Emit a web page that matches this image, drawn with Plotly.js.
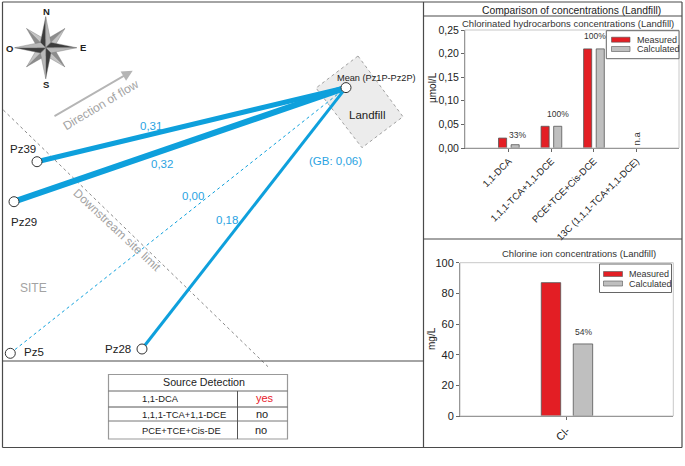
<!DOCTYPE html>
<html>
<head>
<meta charset="utf-8">
<script src="https://cdn.plot.ly/plotly-3.0.1.min.js"></script>
<style>
  html, body { margin: 0; padding: 0; background: #fff; }
  #chart { width: 685px; height: 466px; }
</style>
</head>
<body>
<div id="chart"></div>
<script>
// --- Data ---
const hcCategories = ['1,1-DCA', '1,1,1-TCA+1,1-DCE', 'PCE+TCE+Cis-DCE', '13C (1,1,1-TCA+1,1-DCE)'];
const hcMeasured = [0.021, 0.046, 0.21, null];
const hcCalculated = [0.007, 0.046, 0.21, null];
const hcPercent = ['33%', '100%', '100%', 'n.a'];

const clCategories = ['Cl-'];
const clMeasured = [87];
const clCalculated = [47];
const clPercent = ['54%'];

const wellNames = ['Pz39', 'Pz29', 'Pz5', 'Pz28'];
const wellX = [37, 14, 10.3, 142];
const wellY = [161.7, 201.7, 353.3, 349];
const wellValues = ['0,31', '0,32', '0,00', '0,18'];
const sourceX = 346;
const sourceY = 87.6;

const landfillX = [358, 403, 362, 316, 358];
const landfillY = [56, 116.7, 147.7, 88, 56];
const siteLimitX = [3.3, 268];
const siteLimitY = [110, 366.7];

const tableRows = ['1,1-DCA', '1,1,1-TCA+1,1-DCE', 'PCE+TCE+Cis-DE'];
const tableResults = ['yes', 'no', 'no'];

// --- Styles ---
const RED = '#e31e24';
const GREY = '#bfbfbf';
const BLUE = '#0ea0dc';
const BLUE_TEXT = '#2aa3e2';
const LABEL_GREY = '#a3a3a3';
const FRAME = '#4a4a4a';
const FONT = 'Liberation Sans, Arial, sans-serif';
const W = 685, H = 466;

// Pixel box -> axis domain
const domX = (a, b) => [a / W, b / W];
const domY = (top, bottom) => [1 - bottom / H, 1 - top / H];

function note(x, y, text, size, color, opts) {
    return Object.assign({
        xref: 'x3', yref: 'y3', x: x, y: y, text: text, showarrow: false,
        font: { family: FONT, size: size, color: color }
    }, opts || {});
}

function line(x0, y0, x1, y1, color, width) {
    return { type: 'line', xref: 'x3', yref: 'y3', x0, y0, x1, y1, line: { color, width }, layer: 'above' };
}

function box(x0, y0, x1, y1, fill, color, width, layer) {
    return { type: 'rect', xref: 'x3', yref: 'y3', x0, y0, x1, y1, fillcolor: fill, line: { color, width }, layer: layer || 'above' };
}

// --- Compass rose ---
function compassShapes(cx, cy) {
    const shapes = [];
    const tri = (ax, ay, bx, by, fill) => ({
        type: 'path', xref: 'x3', yref: 'y3', layer: 'above',
        path: `M${cx},${cy} L${cx + ax},${cy + ay} L${cx + bx},${cy + by} Z`,
        fillcolor: fill, line: { color: '#777', width: 0.4 }
    });
    // quarter turns, diagonals go underneath
    for (let i = 0; i < 4; i++) {
        const a = Math.PI / 4 + i * Math.PI / 2;
        const tip = 27, side = 8;
        const tx = tip * Math.sin(a), ty = -tip * Math.cos(a);
        const lx = side * Math.sin(a - Math.PI / 4), ly = -side * Math.cos(a - Math.PI / 4);
        const rx = side * Math.sin(a + Math.PI / 4), ry = -side * Math.cos(a + Math.PI / 4);
        shapes.push(tri(tx, ty, lx, ly, '#8c8c8c'));
        shapes.push(tri(tx, ty, rx, ry, '#c4c4c4'));
    }
    for (let i = 0; i < 4; i++) {
        const a = i * Math.PI / 2;
        const tip = 31, side = 7.5;
        const tx = tip * Math.sin(a), ty = -tip * Math.cos(a);
        const lx = side * Math.sin(a - Math.PI / 4), ly = -side * Math.cos(a - Math.PI / 4);
        const rx = side * Math.sin(a + Math.PI / 4), ry = -side * Math.cos(a + Math.PI / 4);
        shapes.push(tri(tx, ty, lx, ly, '#3d3d3d'));
        shapes.push(tri(tx, ty, rx, ry, '#b8b8b8'));
    }
    return shapes;
}

// --- Traces ---
const barLine = { color: '#555', width: 0.8 };
const traces = [
    { type: 'bar', x: hcCategories, y: hcMeasured, name: 'Measured', xaxis: 'x', yaxis: 'y', width: 0.19, offset: -0.242, marker: { color: RED, line: barLine } },
    { type: 'bar', x: hcCategories, y: hcCalculated, name: 'Calculated', xaxis: 'x', yaxis: 'y', width: 0.19, offset: 0.054, marker: { color: GREY, line: barLine } },
    { type: 'bar', x: clCategories, y: clMeasured, name: 'Measured', xaxis: 'x2', yaxis: 'y2', width: 0.091, offset: -0.119, marker: { color: RED, line: barLine } },
    { type: 'bar', x: clCategories, y: clCalculated, name: 'Calculated', xaxis: 'x2', yaxis: 'y2', width: 0.091, offset: 0.031, marker: { color: GREY, line: barLine } },
    { type: 'scatter', mode: 'lines', x: landfillX, y: landfillY, xaxis: 'x3', yaxis: 'y3', fill: 'toself', fillcolor: '#ececec', line: { color: '#8a8a8a', width: 0.8, dash: 'dot' } },
    { type: 'scatter', mode: 'lines', x: siteLimitX, y: siteLimitY, xaxis: 'x3', yaxis: 'y3', line: { color: '#8a8a8a', width: 1, dash: 'dot' } }
];

const wellLineWidths = [5, 6, 1, 3];
wellNames.forEach((name, i) => {
    traces.push({
        type: 'scatter', mode: 'lines', name: name, xaxis: 'x3', yaxis: 'y3',
        x: [wellX[i], sourceX], y: [wellY[i], sourceY],
        line: { color: BLUE, width: wellLineWidths[i], dash: i === 2 ? 'dot' : 'solid' }
    });
});
traces.push({
    type: 'scatter', mode: 'markers', xaxis: 'x3', yaxis: 'y3',
    x: wellX.concat([sourceX]), y: wellY.concat([sourceY]),
    marker: { size: 10, color: '#fff', line: { color: '#333', width: 1 } }
});

// --- Annotations ---
const wellLabelPos = [[22.5, 149], [24, 222], [34, 352], [118, 349]];
const valuePos = [[151, 126], [162, 163.5], [192.5, 196], [226.5, 220]];
const boldLetter = { family: FONT, size: 9.5, color: '#222', weight: 700 };

const annotations = [
    note(571, 10, 'Comparison of concentrations (Landfill)', 10.3, '#222'),
    note(568, 23.7, 'Chlorinated hydrocarbons concentrations (Landfill)', 9.5, '#333'),
    note(579, 253, 'Chlorine ion concentrations (Landfill)', 9.5, '#333'),
    note(432, 88, 'µmol/L', 10, '#222', { textangle: -90 }),
    note(431, 339, 'mg/L', 10, '#222', { textangle: -90 }),
    note(46, 11, 'N', 9.5, '#222', { font: boldLetter }),
    note(46, 84, 'S', 9.5, '#222', { font: boldLetter }),
    note(9.5, 48, 'O', 9.5, '#222', { font: boldLetter }),
    note(82.5, 47.5, 'E', 9.5, '#222', { font: boldLetter }),
    note(100.7, 105, 'Direction of flow', 12, LABEL_GREY, { textangle: -31 }),
    note(117, 230, 'Downstream site limit', 12, LABEL_GREY, { textangle: 43 }),
    note(33, 288, 'SITE', 12, LABEL_GREY),
    note(376.7, 78, 'Mean (Pz1P-Pz2P)', 9.2, '#222'),
    note(367, 114.5, 'Landfill', 11.5, '#222'),
    note(335, 161, '(GB: 0,06)', 11.5, BLUE_TEXT),
    // flow arrow
    { xref: 'x3', yref: 'y3', axref: 'x3', ayref: 'y3', x: 132.7, y: 70.7, ax: 53, ay: 117, text: '', showarrow: true, arrowhead: 2, arrowsize: 1.2, arrowwidth: 1.8, arrowcolor: '#b5b5b5' },
    // table
    note(204, 382, 'Source Detection', 10.7, '#222')
];

wellNames.forEach((name, i) => {
    annotations.push(note(wellLabelPos[i][0], wellLabelPos[i][1], name, 11.5, '#222'));
    annotations.push(note(valuePos[i][0], valuePos[i][1], wellValues[i], 11.5, BLUE_TEXT));
});

const tableRowY = [398.3, 414, 430];
const tableResultX = [265, 262, 261];
tableRows.forEach((row, i) => {
    annotations.push(note(140, tableRowY[i], row, 9.4, '#222', { xanchor: 'left' }));
    const color = tableResults[i] === 'yes' ? '#e8202a' : '#222';
    annotations.push(note(tableResultX[i], tableRowY[i], tableResults[i], 11, color));
});

// Percentage labels sit just over the bars
annotations.push({ xref: 'x', yref: 'y', x: hcCategories[0], y: hcCalculated[0], yshift: 10, xshift: 9, text: hcPercent[0], showarrow: false, font: { family: FONT, size: 8.5, color: '#333' } });
annotations.push({ xref: 'x', yref: 'y', x: hcCategories[1], y: hcCalculated[1], yshift: 12, xshift: 7, text: hcPercent[1], showarrow: false, font: { family: FONT, size: 8.5, color: '#333' } });
annotations.push({ xref: 'x', yref: 'y', x: hcCategories[2], y: hcCalculated[2], yshift: 13, xshift: 1, text: hcPercent[2], showarrow: false, font: { family: FONT, size: 8.5, color: '#333' } });
annotations.push({ xref: 'x', yref: 'y', x: hcCategories[3], y: 0, yshift: 10, text: hcPercent[3], textangle: -90, showarrow: false, font: { family: FONT, size: 9.5, color: '#333' } });
annotations.push({ xref: 'x2', yref: 'y2', x: clCategories[0], y: clCalculated[0], yshift: 12, xshift: 17, text: clPercent[0], showarrow: false, font: { family: FONT, size: 8.5, color: '#333' } });

// Legend boxes, swatches and texts
function legendBox(x0, y0, x1, y1, swX0, swX1, txtX, rowA, rowB, size) {
    annotations.push(note(txtX, rowA, 'Measured', size, '#333', { xanchor: 'left' }));
    annotations.push(note(txtX, rowB, 'Calculated', size, '#333', { xanchor: 'left' }));
    return [
        box(x0, y0, x1, y1, '#fff', '#666', 1),
        box(swX0, rowA - 2.5, swX1, rowA + 2.5, RED, '#555', 0.6),
        box(swX0, rowB - 2.5, swX1, rowB + 2.5, GREY, '#555', 0.6)
    ];
}

// --- Shapes ---
const shapes = [
    // chart plot frames
    box(465, 30, 679, 148, 'rgba(0,0,0,0)', '#c8c8c8', 1, 'below'),
    box(460, 262.7, 673.3, 416, 'rgba(0,0,0,0)', '#c8c8c8', 1, 'below'),
    // panel frame
    line(2.5, 2, 682, 2, FRAME, 1.2),
    line(2.5, 2, 2.5, 447.5, FRAME, 1.2),
    line(2.5, 447.5, 682, 447.5, FRAME, 1.2),
    line(682, 2, 682, 447.5, FRAME, 1.2),
    line(423.5, 2, 423.5, 447.5, FRAME, 1.2),
    line(2.5, 361, 423.5, 361, FRAME, 1.2),
    line(423.5, 16, 682, 16, FRAME, 1.2),
    line(423.5, 239, 682, 239, FRAME, 1.2),
    // source table
    box(108.5, 374.5, 287.5, 439, 'rgba(0,0,0,0)', '#999', 1.2),
    line(108.5, 391, 287.5, 391, '#666', 1),
    line(108.5, 407, 287.5, 407, '#555', 1),
    line(108.5, 421, 287.5, 421, '#777', 1),
    line(237.5, 391, 237.5, 439, '#555', 1)
].concat(
    compassShapes(45.7, 47.7),
    legendBox(606.3, 30.7, 679, 58.7, 611.5, 630, 634.5, 39.7, 49, 9),
    legendBox(599.5, 264, 671.5, 292.5, 603.5, 622.5, 626.5, 274, 283.5, 9)
);

// --- Layout ---
const tickFont = { family: FONT, size: 10.5, color: '#222' };
const axisBase = { showgrid: false, zeroline: false, showline: true, linecolor: '#666', linewidth: 1, ticks: 'outside', ticklen: 3, tickcolor: '#666', tickfont: tickFont };

const layout = {
    width: W, height: H,
    margin: { l: 0, r: 0, t: 0, b: 0 },
    paper_bgcolor: '#fff',
    plot_bgcolor: 'rgba(0,0,0,0)',
    showlegend: false,
    barmode: 'overlay',
    separators: ', ',
    xaxis: Object.assign({}, axisBase, { domain: domX(465, 679), anchor: 'y', type: 'category', range: [-1.03, 4], tickangle: -45, categoryorder: 'array', categoryarray: hcCategories, tickfont: Object.assign({}, tickFont, { size: 9.5 }) }),
    yaxis: Object.assign({}, axisBase, { domain: domY(30, 148), anchor: 'x', range: [0, 0.25], dtick: 0.05, tickformat: '.2f' }),
    xaxis2: Object.assign({}, axisBase, { domain: domX(460, 673.3), anchor: 'y2', type: 'category', range: [-0.5, 0.5], tickangle: -45, tickfont: Object.assign({}, tickFont, { size: 11 }) }),
    yaxis2: Object.assign({}, axisBase, { domain: domY(262.7, 416), anchor: 'x2', range: [0, 100], dtick: 20, tickfont: Object.assign({}, tickFont, { size: 11 }) }),
    xaxis3: { domain: [0, 1], range: [0, W], anchor: 'y3', visible: false, fixedrange: true },
    yaxis3: { domain: [0, 1], range: [H, 0], anchor: 'x3', visible: false, fixedrange: true },
    shapes: shapes,
    annotations: annotations
};

Plotly.newPlot('chart', traces, layout, { displayModeBar: false, staticPlot: true });
</script>
</body>
</html>
